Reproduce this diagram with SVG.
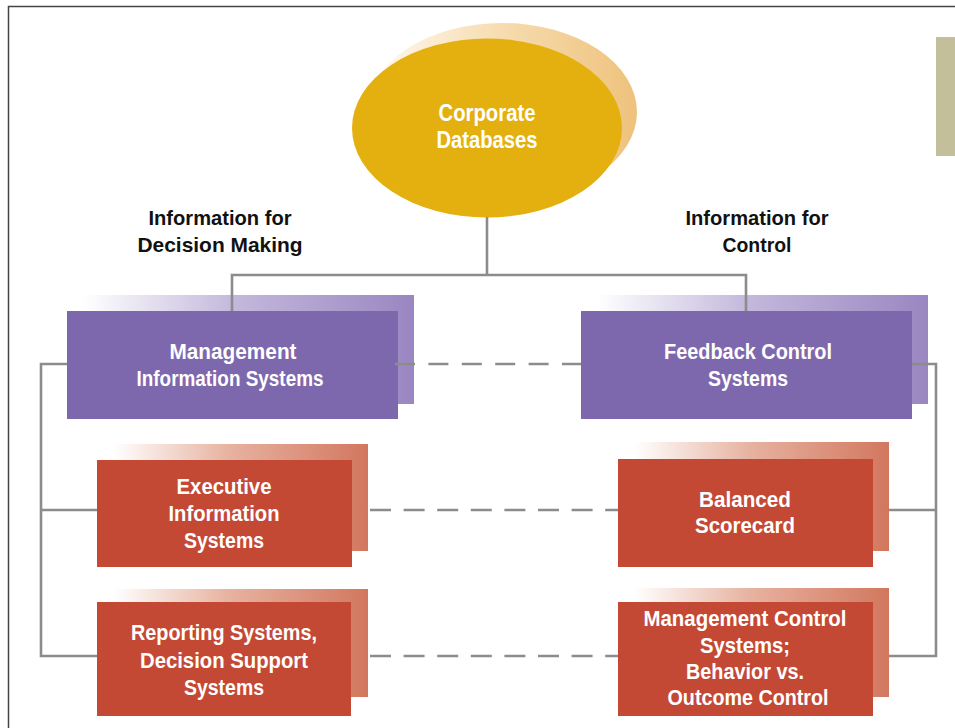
<svg xmlns="http://www.w3.org/2000/svg" width="955" height="728" viewBox="0 0 955 728">
<defs>
<linearGradient id="gEll" x1="0" y1="0" x2="1" y2="0">
<stop offset="0" stop-color="#fffaf2"/>
<stop offset="0.5" stop-color="#f6dcb0"/>
<stop offset="1" stop-color="#efc27c"/>
</linearGradient>
<linearGradient id="gPur" x1="0" y1="0" x2="1" y2="0">
<stop offset="0" stop-color="#ffffff"/>
<stop offset="0.45" stop-color="#c4b9dc"/>
<stop offset="1" stop-color="#9a86c1"/>
</linearGradient>
<linearGradient id="gRed" x1="0" y1="0" x2="1" y2="0">
<stop offset="0" stop-color="#ffffff"/>
<stop offset="0.45" stop-color="#e7b3a1"/>
<stop offset="1" stop-color="#d2775e"/>
</linearGradient>
</defs>
<style>
.t{font-family:"Liberation Sans Narrow","Liberation Sans",Arial,sans-serif;font-weight:bold;text-anchor:middle;font-size:22px;fill:#ffffff}
.lbl{fill:#111111;font-size:21px}
.big{font-size:24px}
.pur{fill:#7e68ad}
.red{fill:#c44935}
.sp{fill:url(#gPur)}
.sr{fill:url(#gRed)}
.c{stroke:#8c8c8e;stroke-width:2.6;fill:none}
.d{stroke-dasharray:20 13.4}
.d2{stroke-dasharray:21 12.6}
</style>
<rect width="955" height="728" fill="#ffffff"/>
<path d="M8.5 728 V6.5 H955" fill="none" stroke="#444444" stroke-width="1.5"/>
<rect x="936" y="37" width="19" height="119" fill="#c4bf9b"/>

<g id="corporate-databases">
<ellipse cx="502" cy="112" rx="135" ry="89" fill="url(#gEll)"/>
<ellipse cx="487" cy="128" rx="135" ry="89.5" fill="#e4b00f"/>
<text class="t big" x="487" y="121" textLength="97" lengthAdjust="spacingAndGlyphs">Corporate</text>
<text class="t big" x="487" y="148" textLength="101" lengthAdjust="spacingAndGlyphs">Databases</text>
</g>

<g id="label-decision">
<text class="t lbl" x="220" y="225" textLength="143" lengthAdjust="spacingAndGlyphs">Information for</text>
<text class="t lbl" x="220" y="252" textLength="165" lengthAdjust="spacingAndGlyphs">Decision Making</text>
</g>
<g id="label-control">
<text class="t lbl" x="757" y="225" textLength="143" lengthAdjust="spacingAndGlyphs">Information for</text>
<text class="t lbl" x="757" y="252" textLength="69" lengthAdjust="spacingAndGlyphs">Control</text>
</g>

<g id="mis">
<rect class="sp" x="83" y="295" width="331" height="109"/>
<rect class="pur" x="67" y="311" width="331" height="108"/>
<text class="t" x="233" y="359" textLength="127" lengthAdjust="spacingAndGlyphs">Management</text>
<text class="t" x="230" y="386" textLength="187" lengthAdjust="spacingAndGlyphs">Information Systems</text>
</g>

<g id="fcs">
<rect class="sp" x="597" y="295" width="331" height="109"/>
<rect class="pur" x="581" y="311" width="331" height="108"/>
<text class="t" x="748" y="359" textLength="168" lengthAdjust="spacingAndGlyphs">Feedback Control</text>
<text class="t" x="748" y="386" textLength="80" lengthAdjust="spacingAndGlyphs">Systems</text>
</g>

<g id="eis">
<rect class="sr" x="113" y="444" width="255" height="107"/>
<rect class="red" x="97" y="460" width="255" height="107"/>
<text class="t" x="224" y="494" textLength="95" lengthAdjust="spacingAndGlyphs">Executive</text>
<text class="t" x="224" y="521" textLength="111" lengthAdjust="spacingAndGlyphs">Information</text>
<text class="t" x="224" y="548" textLength="80" lengthAdjust="spacingAndGlyphs">Systems</text>
</g>

<g id="rs-dss">
<rect class="sr" x="113" y="589" width="255" height="108"/>
<rect class="red" x="97" y="602" width="254" height="114"/>
<text class="t" x="224" y="640" textLength="186" lengthAdjust="spacingAndGlyphs">Reporting Systems,</text>
<text class="t" x="224" y="668" textLength="168" lengthAdjust="spacingAndGlyphs">Decision Support</text>
<text class="t" x="224" y="695" textLength="80" lengthAdjust="spacingAndGlyphs">Systems</text>
</g>

<g id="balanced-scorecard">
<rect class="sr" x="634" y="442" width="255" height="109"/>
<rect class="red" x="618" y="459" width="255" height="108"/>
<text class="t" x="745" y="507" textLength="92" lengthAdjust="spacingAndGlyphs">Balanced</text>
<text class="t" x="745" y="533" textLength="100" lengthAdjust="spacingAndGlyphs">Scorecard</text>
</g>

<g id="mcs">
<rect class="sr" x="634" y="588" width="255" height="109"/>
<rect class="red" x="618" y="602" width="255" height="114"/>
<text class="t" x="745" y="626" textLength="203" lengthAdjust="spacingAndGlyphs">Management Control</text>
<text class="t" x="745" y="653" textLength="90" lengthAdjust="spacingAndGlyphs">Systems;</text>
<text class="t" x="745" y="679" textLength="118" lengthAdjust="spacingAndGlyphs">Behavior vs.</text>
<text class="t" x="748" y="705" textLength="161" lengthAdjust="spacingAndGlyphs">Outcome Control</text>
</g>

<g id="connectors">
<path class="c" d="M487 217 V275 M232 311 V275 H746 V311"/>
<path class="c" d="M67 364 H41 V656 H97 M41 510 H97"/>
<path class="c" d="M912 364 H936 V656 H889 M936 510 H889"/>
<path class="c d" d="M395 364 H581"/>
<path class="c d2" d="M370 510 H618"/>
<path class="c d2" d="M370 656 H618"/>
</g>
</svg>
